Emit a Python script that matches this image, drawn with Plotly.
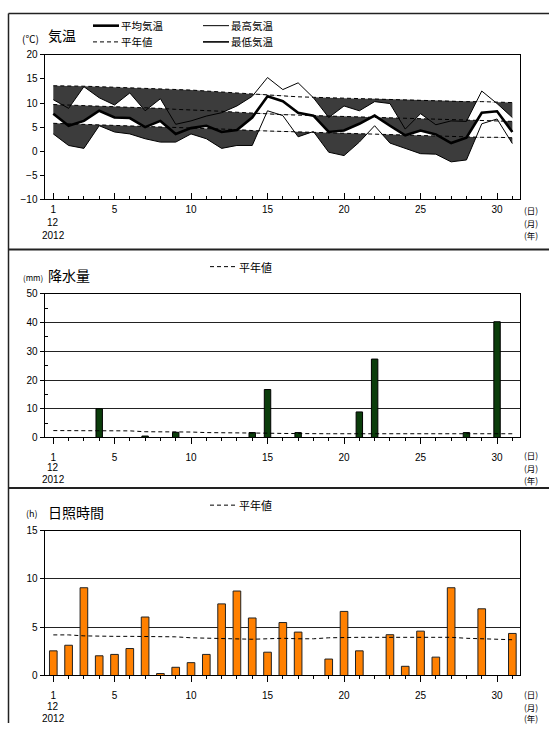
import plotly.graph_objects as go

# ---------------- data ----------------
days = list(range(1, 32))

tmax = [10.7, 8.9, 13.4, 11.1, 9.6, 12.1, 8.4, 10.9, 5.6, 6.3, 7.3, 8.0, 9.4, 11.4, 15.3,
        12.8, 14.2, 11.1, 7.0, 9.4, 8.4, 10.3, 9.9, 4.6, 7.8, 5.5, 6.3, 6.2, 12.5, 9.9, 7.0]
tmean = [7.8, 5.3, 6.3, 8.4, 7.0, 6.9, 5.0, 6.3, 3.6, 4.8, 5.3, 4.0, 4.4, 7.0, 11.4,
         10.4, 8.0, 7.4, 4.0, 4.3, 5.7, 7.4, 5.3, 3.3, 4.3, 3.5, 1.7, 2.8, 8.0, 8.3, 4.0]
tmin = [3.6, 1.2, 0.6, 5.3, 4.0, 3.6, 2.6, 1.9, 1.9, 3.6, 2.6, 0.6, 1.2, 1.2, 8.4,
        7.4, 3.0, 4.1, -0.2, -0.9, 1.9, 5.3, 1.7, 0.6, -0.5, -0.6, -2.2, -1.8, 5.7, 6.7, 1.6]

nmax = [13.6, 13.6, 13.5, 13.4, 13.3, 13.2, 13.1, 13.0, 12.9, 12.7, 12.5, 12.3, 12.1, 11.8, 11.6,
        11.4, 11.3, 11.2, 11.1, 11.0, 10.9, 10.9, 10.8, 10.7, 10.6, 10.5, 10.4, 10.3, 10.3, 10.2, 10.1]
nmean = [9.7, 9.6, 9.5, 9.4, 9.3, 9.2, 9.0, 8.9, 8.7, 8.6, 8.4, 8.3, 8.1, 7.9, 7.8,
         7.6, 7.5, 7.4, 7.3, 7.2, 7.2, 7.1, 7.0, 6.9, 6.8, 6.7, 6.6, 6.5, 6.4, 6.3, 6.2]
nmin = [5.8, 5.7, 5.6, 5.5, 5.4, 5.3, 5.2, 5.1, 5.0, 4.9, 4.8, 4.6, 4.5, 4.3, 4.2,
        4.1, 4.0, 3.9, 3.8, 3.7, 3.6, 3.6, 3.5, 3.4, 3.3, 3.2, 3.1, 3.0, 2.9, 2.9, 2.8]

precip = [0, 0, 0, 10.0, 0, 0, 0.5, 0, 1.8, 0, 0, 0, 0, 1.7, 16.7,
          0, 1.7, 0, 0, 0, 8.9, 27.3, 0, 0, 0, 0, 0, 1.7, 0, 40.3, 0]
pnorm = [2.4, 2.4, 2.4, 2.4, 2.4, 2.3, 2.0, 2.0, 2.0, 1.9, 1.7, 1.7, 1.7, 1.6, 1.5,
         1.4, 1.3, 1.3, 1.3, 1.3, 1.3, 1.3, 1.3, 1.3, 1.3, 1.3, 1.3, 1.3, 1.3, 1.3, 1.3]

sun = [2.55, 3.13, 9.08, 2.04, 2.18, 2.79, 6.05, 0.2, 0.85, 1.33, 2.18, 7.41, 8.74, 5.95, 2.41,
       5.48, 4.49, 0, 1.7, 6.63, 2.55, 0, 4.22, 0.95, 4.59, 1.9, 9.08, 0, 6.9, 0, 4.35]
snorm = [4.2, 4.2, 4.1, 4.05, 4.05, 4.05, 4.05, 4.0, 4.0, 3.9, 3.85, 3.85, 3.75, 3.75, 3.8,
         3.85, 3.8, 3.8, 3.9, 3.95, 3.95, 3.95, 3.95, 3.95, 3.95, 3.95, 3.95, 3.85, 3.8, 3.75, 3.7]

major_days = [1, 5, 10, 15, 20, 25, 30]
temp_ticks = [-10, -5, 0, 5, 10, 15, 20]
precip_ticks = [0, 10, 20, 30, 40, 50]
sun_ticks = [0, 5, 10, 15]
unit_labels = ["(日)", "(月)", "(年)"]

# ---------------- helpers ----------------
W, H = 549, 729
JP = "Noto Sans CJK JP"
NUM = "Liberation Sans"


def px(x):
    return x / W


def py(y):
    return 1 - y / H


def below_fill(x, a, n):
    """polygon between normal and actual where actual is below normal"""
    xs, lo, hi = [], [], []
    for i in range(len(x)):
        xs.append(x[i]); lo.append(min(a[i], n[i])); hi.append(n[i])
        if i < len(x) - 1:
            d0 = a[i] - n[i]
            d1 = a[i + 1] - n[i + 1]
            if d0 * d1 < 0:
                t = d0 / (d0 - d1)
                xc = x[i] + t * (x[i + 1] - x[i])
                yc = n[i] + t * (n[i + 1] - n[i])
                xs.append(xc); lo.append(yc); hi.append(yc)
    return xs, lo, hi


def nz(v):
    return [None if s == 0 else s for s in v]


fig = go.Figure()

# ---------------- temperature ----------------
for a, n in [(tmax, nmax), (tmean, nmean), (tmin, nmin)]:
    xs, lo, hi = below_fill(days, a, n)
    fig.add_trace(go.Scatter(x=xs, y=hi, mode="lines", line=dict(width=0, color="#3c3c3c"),
                             hoverinfo="skip", xaxis="x", yaxis="y"))
    fig.add_trace(go.Scatter(x=xs, y=lo, mode="lines", line=dict(width=0, color="#3c3c3c"),
                             fill="tonexty", fillcolor="#3c3c3c", hoverinfo="skip",
                             xaxis="x", yaxis="y"))

for n in (nmax, nmean, nmin):
    fig.add_trace(go.Scatter(x=days, y=n, mode="lines",
                             line=dict(color="black", width=1, dash="4px,3px"),
                             xaxis="x", yaxis="y"))
fig.add_trace(go.Scatter(x=days, y=tmax, mode="lines", line=dict(color="black", width=1),
                         xaxis="x", yaxis="y"))
fig.add_trace(go.Scatter(x=days, y=tmin, mode="lines", line=dict(color="black", width=1),
                         xaxis="x", yaxis="y"))
fig.add_trace(go.Scatter(x=days, y=tmean, mode="lines", line=dict(color="black", width=2.6),
                         xaxis="x", yaxis="y"))

# ---------------- precipitation ----------------
fig.add_trace(go.Bar(x=days, y=nz(precip), width=0.42,
                     marker=dict(color="#0b3d0b", line=dict(color="black", width=1)),
                     xaxis="x2", yaxis="y2"))
fig.add_trace(go.Scatter(x=days, y=pnorm, mode="lines",
                         line=dict(color="black", width=1, dash="4px,3px"),
                         xaxis="x2", yaxis="y2"))

# ---------------- sunshine ----------------
fig.add_trace(go.Bar(x=days, y=nz(sun), width=0.5,
                     marker=dict(color="#ff8000", line=dict(color="#222", width=1)),
                     xaxis="x3", yaxis="y3"))
fig.add_trace(go.Scatter(x=days, y=snorm, mode="lines",
                         line=dict(color="black", width=1, dash="4px,3px"),
                         xaxis="x3", yaxis="y3"))

# ---------------- axes ----------------
xdom = [px(44.5), px(520)]
xr = [0.425, 31.5]
tickfont = dict(family=NUM, size=10, color="black")


def xaxis_cfg(anchor, inside):
    return dict(domain=xdom, range=xr, anchor=anchor, tickmode="array", tickvals=major_days,
                ticks="inside" if inside else "outside", ticklen=6, tickcolor="black",
                minor=dict(tickmode="array", tickvals=days,
                           ticks="inside" if inside else "outside", ticklen=3, tickcolor="black"),
                showline=True, mirror=True, linecolor="black", linewidth=1,
                showgrid=False, zeroline=False, tickfont=tickfont,
                ticklabelstandoff=1 if inside else 5)


fig.update_layout(
    xaxis=xaxis_cfg("y", True),
    yaxis=dict(domain=[py(196.7), py(49.7)], range=[-10, 20], tickmode="array", tickvals=temp_ticks,
               ticks="outside", ticklen=4, tickcolor="black", showline=True, mirror=True,
               linecolor="black", linewidth=1, showgrid=False, zeroline=False, tickfont=tickfont),
    xaxis2=xaxis_cfg("y2", False),
    yaxis2=dict(domain=[py(438.7), py(292.7)], range=[0, 50], tickmode="array", tickvals=precip_ticks,
                ticks="outside", ticklen=4, tickcolor="black",
                minor=dict(tickmode="array", tickvals=[5, 15, 25, 35, 45], ticks="inside",
                           ticklen=3, tickcolor="black"),
                showline=True, mirror=True, linecolor="black", linewidth=1,
                showgrid=True, gridcolor="#222", gridwidth=1, zeroline=False, tickfont=tickfont),
    xaxis3=xaxis_cfg("y3", False),
    yaxis3=dict(domain=[py(680.7), py(533.3)], range=[0, 15], tickmode="array", tickvals=sun_ticks,
                ticks="outside", ticklen=4, tickcolor="black", showline=True, mirror=True,
                linecolor="black", linewidth=1, showgrid=True, gridcolor="#222", gridwidth=1,
                zeroline=False, tickfont=tickfont),
)

# ---------------- frames & legend samples ----------------
R1, R2 = 20, 36.5  # temperature legend rows (px)


def hline(x0, x1, y, width=1, color="black", dash=None):
    ln = dict(color=color, width=width)
    if dash:
        ln["dash"] = dash
    return dict(type="line", xref="paper", yref="paper", x0=px(x0), x1=px(x1), y0=py(y), y1=py(y), line=ln)


shapes = [
    dict(type="line", xref="paper", yref="paper", x0=px(8.5), x1=px(8.5), y0=py(7.5), y1=0,
         line=dict(color="#222", width=1.5)),
    hline(8.5, W, 7.5, 1.5, "#222"),
    hline(8.5, W, 247.7, 2, "#222"),
    hline(8.5, W, 490, 2, "#222"),
    hline(93, 119, R1, 2.6),
    hline(203, 229, R1, 1),
    hline(93, 119, R2, 1, dash="4px,3px"),
    hline(203, 229, R2, 1.6),
    hline(210, 237, 265, 1, dash="4px,3px"),
    hline(210, 237, 507.5, 1, dash="4px,3px"),
]
fig.update_layout(shapes=shapes)

ann = []


def txt(text, x, y, size=11, xanchor="center", family=JP, xref="paper"):
    ann.append(dict(text=text, x=px(x) if xref == "paper" else x, y=py(y), xref=xref, yref="paper",
                    showarrow=False, xanchor=xanchor, yanchor="middle",
                    font=dict(family=family, size=size, color="black")))


# temperature header
txt("(℃)", 30, 33, 10)
txt("気温", 46, 29, 14, "left")
txt("平均気温", 119, R1, 10.5, "left")
txt("最高気温", 229, R1, 10.5, "left")
txt("平年値", 119, R2, 10.5, "left")
txt("最低気温", 229, R2, 10.5, "left")
# precipitation header
txt("(mm)", 33, 276, 8)
txt("降水量", 46, 273, 14, "left")
txt("平年値", 237, 265, 11, "left")
# sunshine header
txt("(h)", 32, 516.5, 9)
txt("日照時間", 46, 514, 14, "left")
txt("平年値", 237, 507.5, 11, "left")

# month / year under day 1 and unit labels on the right
for y0, y1, y2 in [(207, 220.5, 233), (457, 469.5, 481.5), (700, 712.5, 724)]:
    txt("12", 1, y1, 10, family=NUM, xref="x")
    txt("2012", 1, y2, 10, family=NUM, xref="x")
    for s, yy in zip(unit_labels, (y0, y1, y2)):
        txt(s, 531, yy, 8.5)

fig.update_layout(annotations=ann, width=W, height=H, margin=dict(l=0, r=0, t=0, b=0),
                  paper_bgcolor="white", plot_bgcolor="white", showlegend=False)

fig.write_html("out.html", config={"displayModeBar": False},
               post_script="document.body.style.margin='0';document.body.style.overflow='hidden';")
